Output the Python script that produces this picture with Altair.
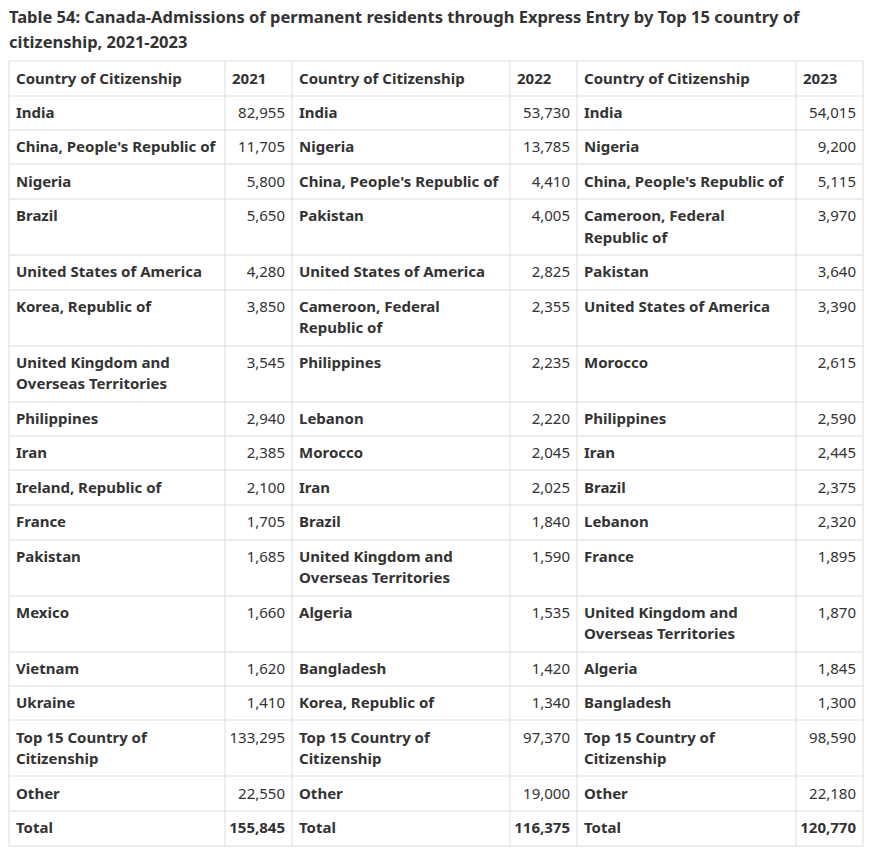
import altair as alt
import pandas as pd

# ---------------- data ----------------
TITLE_LINES = [
    "Table 54: Canada-Admissions of permanent residents through Express Entry by Top 15 country of",
    "citizenship, 2021-2023",
]
YEARS = ["2021", "2022", "2023"]
HEADER_LABEL = "Country of Citizenship"

COUNTRIES_2021 = [
    "India", "China, People's Republic of", "Nigeria", "Brazil", "United States of America",
    "Korea, Republic of", "United Kingdom and Overseas Territories", "Philippines", "Iran",
    "Ireland, Republic of", "France", "Pakistan", "Mexico", "Vietnam", "Ukraine",
]
VALUES_2021 = [82955, 11705, 5800, 5650, 4280, 3850, 3545, 2940, 2385, 2100, 1705, 1685, 1660, 1620, 1410]

COUNTRIES_2022 = [
    "India", "Nigeria", "China, People's Republic of", "Pakistan", "United States of America",
    "Cameroon, Federal Republic of", "Philippines", "Lebanon", "Morocco", "Iran", "Brazil",
    "United Kingdom and Overseas Territories", "Algeria", "Bangladesh", "Korea, Republic of",
]
VALUES_2022 = [53730, 13785, 4410, 4005, 2825, 2355, 2235, 2220, 2045, 2025, 1840, 1590, 1535, 1420, 1340]

COUNTRIES_2023 = [
    "India", "Nigeria", "China, People's Republic of", "Cameroon, Federal Republic of", "Pakistan",
    "United States of America", "Morocco", "Philippines", "Iran", "Brazil", "Lebanon", "France",
    "United Kingdom and Overseas Territories", "Algeria", "Bangladesh",
]
VALUES_2023 = [54015, 9200, 5115, 3970, 3640, 3390, 2615, 2590, 2445, 2375, 2320, 1895, 1870, 1845, 1300]

SUMMARY_LABELS = ["Top 15 Country of Citizenship", "Other", "Total"]
SUMMARY_2021 = [133295, 22550, 155845]
SUMMARY_2022 = [97370, 19000, 116375]
SUMMARY_2023 = [98590, 22180, 120770]

# how long labels wrap inside their cells
WRAPS = {
    "United Kingdom and Overseas Territories": ["United Kingdom and", "Overseas Territories"],
    "Cameroon, Federal Republic of": ["Cameroon, Federal", "Republic of"],
    "Top 15 Country of Citizenship": ["Top 15 Country of", "Citizenship"],
}

# ---------------- layout / style ----------------
W, H = 858, 840
COL_EDGES = [1, 217, 284, 502, 569, 788, 855]
TABLE_TOP = 53
PAD_X = 7
BASE_ROW = 13
LINE_H = 21.5
FIRST_BASELINE = 22
HEADER_BASELINE = 23
TITLE_BASE = 15
TITLE_LH = 25
FONT = "Noto Sans"
TEXT_COLOR = "#333333"
GRID_COLOR = "#dddddd"

# ---------------- build cells ----------------
def lines_of(label):
    return WRAPS.get(label, [label])

rows = []  # each row: list of 6 cells (lines, kind)
rows.append([
    ([HEADER_LABEL], "lb"), ([YEARS[0]], "lb"),
    ([HEADER_LABEL], "lb"), ([YEARS[1]], "lb"),
    ([HEADER_LABEL], "lb"), ([YEARS[2]], "lb"),
])
for i in range(len(COUNTRIES_2021)):
    rows.append([
        (lines_of(COUNTRIES_2021[i]), "lb"), ([f"{VALUES_2021[i]:,}"], "rn"),
        (lines_of(COUNTRIES_2022[i]), "lb"), ([f"{VALUES_2022[i]:,}"], "rn"),
        (lines_of(COUNTRIES_2023[i]), "lb"), ([f"{VALUES_2023[i]:,}"], "rn"),
    ])
for j, lab in enumerate(SUMMARY_LABELS):
    numkind = "rb" if lab == "Total" else "rn"
    rows.append([
        (lines_of(lab), "lb"), ([f"{SUMMARY_2021[j]:,}"], numkind),
        (lines_of(lab), "lb"), ([f"{SUMMARY_2022[j]:,}"], numkind),
        (lines_of(lab), "lb"), ([f"{SUMMARY_2023[j]:,}"], numkind),
    ])

cells = []
hlines = []
y = TABLE_TOP
hlines.append({"y": y, "x1": COL_EDGES[0], "x2": COL_EDGES[-1]})
for ri, row in enumerate(rows):
    nlines = max(len(c[0]) for c in row)
    base = HEADER_BASELINE if ri == 0 else FIRST_BASELINE
    for ci, (lns, kind) in enumerate(row):
        if kind.startswith("l"):
            x = COL_EDGES[ci] + PAD_X
        else:
            x = COL_EDGES[ci + 1] - PAD_X
        cells.append({"x": x, "y": y + base, "text": "\n".join(lns), "kind": kind})
    y += BASE_ROW + LINE_H * nlines
    hlines.append({"y": round(y), "x1": COL_EDGES[0], "x2": COL_EDGES[-1]})
TABLE_BOTTOM = round(y)

vlines = [{"x": e, "y1": TABLE_TOP, "y2": TABLE_BOTTOM} for e in COL_EDGES]

cells_df = pd.DataFrame(cells)
h_df = pd.DataFrame(hlines)
v_df = pd.DataFrame(vlines)
title_df = pd.DataFrame({"x": [COL_EDGES[0]], "y": [TITLE_BASE], "text": ["\n".join(TITLE_LINES)]})

xs = alt.Scale(domain=[0, W], range=[0, W])
ys = alt.Scale(domain=[0, H], range=[0, H])

hrule = alt.Chart(h_df).mark_rule(color=GRID_COLOR, strokeWidth=1).encode(
    x=alt.X("x1:Q", scale=xs, axis=None), x2="x2:Q", y=alt.Y("y:Q", scale=ys, axis=None)
)
vrule = alt.Chart(v_df).mark_rule(color=GRID_COLOR, strokeWidth=1).encode(
    x=alt.X("x:Q", scale=xs, axis=None), y=alt.Y("y1:Q", scale=ys, axis=None), y2="y2:Q"
)

def text_layer(kind, align, weight):
    return alt.Chart(cells_df).transform_filter(alt.datum.kind == kind).mark_text(
        align=align, baseline="alphabetic", font=FONT, fontSize=15, fontWeight=weight,
        color=TEXT_COLOR, lineBreak="\n", lineHeight=LINE_H,
    ).encode(
        x=alt.X("x:Q", scale=xs, axis=None), y=alt.Y("y:Q", scale=ys, axis=None), text="text:N"
    )

title = alt.Chart(title_df).mark_text(
    align="left", baseline="alphabetic", font=FONT, fontSize=16.5, fontWeight="bold",
    color=TEXT_COLOR, lineBreak="\n", lineHeight=TITLE_LH,
).encode(x=alt.X("x:Q", scale=xs, axis=None), y=alt.Y("y:Q", scale=ys, axis=None), text="text:N")

chart = alt.layer(
    hrule, vrule,
    text_layer("lb", "left", "bold"),
    text_layer("rn", "right", "normal"),
    text_layer("rb", "right", "bold"),
    title,
).properties(width=W, height=H, padding=0, background="white").configure_view(stroke=None)

chart.save("out.html", embed_options={"renderer": "svg", "actions": False})
